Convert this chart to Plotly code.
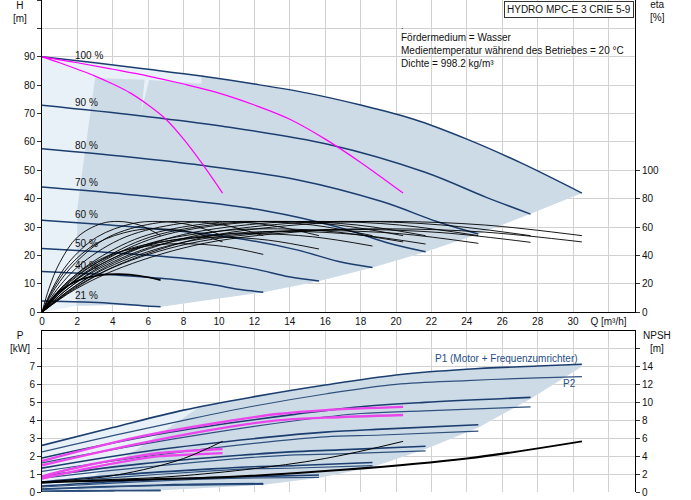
import plotly.graph_objects as go

# ---- Q-H: speed curves, 3 pumps running ----
speed_labels = ["100 %", "90 %", "80 %", "70 %", "60 %", "50 %", "40 %", "21 %"]
label_h = [90.3, 73.9, 58.9, 45.6, 34.3, 24.3, 16.4, 6.1]

q100 = [0, 3, 6, 9, 12, 15, 18, 21, 24, 27, 30.5]
h100 = [90, 87.9, 85.6, 83.2, 80.4, 77.2, 73, 68, 61, 52.8, 42]

speed_q = [
    [0, 5.4, 10.1, 16.2, 21.6, 25.1, 27.6],
    [0, 4.8, 9.0, 14.4, 19.2, 22.3, 24.65],
    [0, 4.2, 7.8, 12.6, 16.8, 19.5, 21.67],
    [0, 3.6, 6.7, 10.8, 14.4, 16.7, 18.67],
    [0, 3.0, 5.6, 9.0, 12.0, 13.95, 15.65],
    [0, 2.4, 4.5, 7.2, 9.6, 11.2, 12.5],
    [0, 1.26, 2.35, 3.8, 5.0, 5.9, 6.7],
]
speed_h = [
    [72.9, 69.3, 65.6, 59.1, 49.4, 40.5, 34.6],
    [57.6, 54.8, 51.8, 46.7, 39.0, 32.0, 27.6],
    [44.1, 41.9, 39.7, 35.8, 29.9, 24.5, 21.3],
    [32.4, 30.8, 29.2, 26.3, 22.0, 18.0, 15.8],
    [22.5, 21.4, 20.3, 18.3, 15.3, 12.5, 11.0],
    [14.4, 13.7, 13.0, 11.7, 9.8, 8.0, 7.1],
    [4.0, 3.8, 3.6, 3.2, 2.7, 2.2, 2.0],
]

# max curves with 1 and 2 pumps (magenta)
max1_q = [0, 1, 2, 3, 4, 5, 6, 7, 8, 9, 10.2]
max2_q = [0, 2, 4, 6, 8, 10, 12, 14, 16, 18, 20.4]
max_h = [90, 87.9, 85.6, 83.2, 80.4, 77.2, 73, 68, 61, 52.8, 42]

# operating range (shaded)
bound_q = [1.95, 4.0, 6.7, 9.5, 12.5, 15.65, 18.67, 21.67, 24.65, 27.56, 30.5]
bound_h = [2.3, 2.6, 2.0, 4.5, 7.1, 11.0, 15.8, 21.3, 27.6, 34.6, 42.0]
dark_top_q = [3.0, 5.8, 5.6, 6.05, 9.0, 9.0]
dark_top_h = [82.5, 81.9, 70.5, 81.8, 80.5, 83.2]
dark_left_q = [2.0]
dark_left_h = [37]

# ---- efficiency curves ----
eta_q = [
    [0, 1.8, 4.6, 9.2, 15.3, 19.8, 25.0, 30.5],
    [0, 1.7, 4.1, 8.3, 13.8, 17.9, 22.6, 27.6],
    [0, 1.5, 3.7, 7.4, 12.3, 16.0, 20.2, 24.65],
    [0, 1.3, 3.3, 6.5, 10.8, 14.1, 17.8, 21.67],
    [0, 1.1, 2.8, 5.6, 9.3, 12.1, 15.3, 18.67],
    [0, 0.9, 2.3, 4.7, 7.8, 10.2, 12.8, 15.65],
    [0, 0.75, 1.9, 3.75, 6.25, 8.1, 10.25, 12.5],
    [0, 0.4, 1.0, 2.0, 3.35, 4.35, 5.5, 6.7],
    [0, 1.2, 3.1, 6.1, 10.2, 13.3, 16.7, 20.4],
    [0, 0.6, 1.5, 3.1, 5.1, 6.6, 8.4, 10.2],
]
eta_pump = [0, 17, 35, 53, 62.5, 64, 61.5, 54]
eta_total = [
    [0, 15.6, 32.1, 48.7, 57.4, 58.8, 56.5, 49.6],
    [0, 15.5, 32.0, 48.4, 57.1, 58.4, 56.1, 49.3],
    [0, 15.3, 31.5, 47.7, 56.3, 57.6, 55.4, 48.6],
    [0, 15.1, 31.2, 47.2, 55.6, 57.0, 54.7, 48.1],
    [0, 14.7, 30.3, 45.8, 54.1, 55.4, 53.2, 46.7],
    [0, 14.0, 28.9, 43.8, 51.6, 52.9, 50.8, 44.6],
    [0, 12.8, 26.4, 40.0, 47.2, 48.3, 46.4, 40.8],
    [0, 7.1, 14.7, 22.3, 26.3, 26.9, 25.8, 22.7],
    [0, 15.6, 32.1, 48.7, 57.4, 58.8, 56.5, 49.6],
    [0, 15.6, 32.1, 48.7, 57.4, 58.8, 56.5, 49.6],
]

# ---- power P1 / P2, 3 pumps ----
p100_q = [0, 4, 8, 12, 16, 20, 24, 28, 30.5]
p1_100 = [2.6, 3.6, 4.57, 5.32, 5.97, 6.53, 6.85, 7.03, 7.13]
p2_100 = [2.24, 3.15, 4.0, 4.8, 5.47, 6.01, 6.22, 6.37, 6.44]

pw_q = [
    [0, 7.2, 14.4, 18, 21.6, 27.6],
    [0, 6.4, 12.8, 16, 19.2, 24.65],
    [0, 5.6, 11.2, 14, 16.8, 21.67],
    [0, 4.8, 9.6, 12, 14.4, 18.67],
    [0, 4, 8, 10, 12, 15.65],
    [0, 3.2, 6.4, 8, 9.6, 12.5],
    [0, 1.7, 3.4, 4.2, 5.0, 6.7],
]
pw_p1 = [
    [1.9, 3.33, 4.35, 4.76, 5.0, 5.28],
    [1.33, 2.34, 3.06, 3.34, 3.51, 3.75],
    [0.89, 1.57, 2.05, 2.24, 2.35, 2.55],
    [0.56, 0.99, 1.29, 1.41, 1.48, 1.65],
    [0.33, 0.57, 0.75, 0.82, 0.86, 0.95],
    [0.17, 0.29, 0.38, 0.42, 0.44, 0.47],
    [0.04, 0.06, 0.07, 0.08, 0.08, 0.09],
]
pw_p2 = [
    [1.63, 2.92, 3.99, 4.38, 4.53, 4.75],
    [1.15, 2.05, 2.8, 3.08, 3.18, 3.4],
    [0.77, 1.37, 1.88, 2.06, 2.13, 2.3],
    [0.48, 0.86, 1.18, 1.3, 1.34, 1.47],
    [0.28, 0.5, 0.68, 0.75, 0.78, 0.82],
    [0.14, 0.26, 0.35, 0.38, 0.4, 0.43],
    [0.03, 0.05, 0.06, 0.07, 0.07, 0.08],
]

# power with 1 and 2 pumps at max speed (magenta)
pmax1_q = [0, 2.67, 5.33, 6.67, 8, 10.2]
pmax1_p1 = [0.87, 1.52, 1.99, 2.18, 2.28, 2.4]
pmax1_p2 = [0.75, 1.33, 1.82, 2.0, 2.07, 2.17]
pmax2_q = [0, 5.33, 10.67, 13.3, 16, 20.4]
pmax2_p1 = [1.73, 3.05, 3.98, 4.35, 4.57, 4.75]
pmax2_p2 = [1.49, 2.67, 3.65, 4.0, 4.15, 4.3]

# shaded area in power plot
pbound_q = [0, 2, 6.7, 12.5, 15.65, 18.67, 21.67, 24.65, 27.6, 30.5]
pbound_p = [0, 0.05, 0.1, 0.4, 0.8, 1.4, 2.4, 3.6, 5.2, 7.0]
pdark_left_q = [2.0, 5.4, 8.9]
pdark_left_p = [0.3, 2.4, 4.75]

# NPSH for 1, 2, 3 pumps
npsh_q = [
    [0, 2, 3.5, 5.74, 8, 10.2],
    [0, 4, 7, 11.5, 16, 20.4],
    [0, 6, 10.5, 17.2, 24, 30.5],
]
npsh_m = [1.1, 1.4, 1.68, 2.5, 3.74, 5.65]

NAVY = "#1b3e6f"
MAG = "#ff00ff"
PALE = "rgb(232,240,248)"
DARK = "rgb(205,219,231)"
GRID = "#d2d2d2"
FONT = "Liberation Sans, Arial, sans-serif"

fig = go.Figure()


def poly(xs, ys, color, xa="x", ya="y"):
    fig.add_trace(go.Scatter(x=xs, y=ys, fill="toself", fillcolor=color, mode="lines",
                             line=dict(width=0, color=color), xaxis=xa, yaxis=ya,
                             hoverinfo="skip"))


def curve(xs, ys, color, width, xa="x", ya="y"):
    fig.add_trace(go.Scatter(x=xs, y=ys, mode="lines", line=dict(color=color, width=width, shape="spline"),
                             xaxis=xa, yaxis=ya))


# top shading
poly(q100 + bound_q[::-1] + [0], h100 + bound_h[::-1] + [0], PALE)
poly(dark_top_q + q100[4:] + bound_q[::-1] + dark_left_q,
     dark_top_h + h100[4:] + bound_h[::-1] + dark_left_h, DARK)

# bottom shading
poly(p100_q + pbound_q[::-1], p1_100 + pbound_p[::-1], PALE, "x2", "y3")
poly(pdark_left_q + p100_q[3:] + pbound_q[::-1][:-1],
     pdark_left_p + p1_100[3:] + pbound_p[::-1][:-1], DARK, "x2", "y3")

# efficiency curves
for i, qs in enumerate(eta_q):
    curve(qs, eta_pump, "black", 0.9, "x", "y2")
    curve(qs, eta_total[i], "black", 1.6 if i == 7 else 0.9, "x", "y2")

# H curves
curve(q100, h100, NAVY, 1.5)
for qs, hs in zip(speed_q, speed_h):
    curve(qs, hs, NAVY, 1.5)
curve(max1_q, max_h, MAG, 1.2)
curve(max2_q, max_h, MAG, 1.2)

# power curves
curve(p100_q, p1_100, NAVY, 1.6, "x2", "y3")
curve(p100_q, p2_100, "#2f517d", 1.2, "x2", "y3")
for qs, a, b in zip(pw_q, pw_p1, pw_p2):
    curve(qs, a, NAVY, 1.6, "x2", "y3")
    curve(qs, b, "#2f517d", 1.2, "x2", "y3")
for qs, a, b in [(pmax1_q, pmax1_p1, pmax1_p2), (pmax2_q, pmax2_p1, pmax2_p2)]:
    curve(qs, a, "rgb(235,70,235)", 2.4, "x2", "y3")
    curve(qs, b, "rgb(235,70,235)", 2.4, "x2", "y3")

# NPSH
for i, qs in enumerate(npsh_q):
    curve(qs, npsh_m, "black", 2.0 if i == 2 else 1.0, "x2", "y4")

ann = []
for lab, hv in zip(speed_labels, label_h):
    ann.append(dict(x=1.75, y=hv, xref="x", yref="y", text=lab, showarrow=False,
                    xanchor="left", yanchor="middle", font=dict(size=10, color="#111")))


def pap(px, py, text, xa="center", ya="middle", **kw):
    ann.append(dict(x=(px - 42) / 593, y=(492 - py) / 492, xref="paper", yref="paper", text=text,
                    showarrow=False, xanchor=xa, yanchor=ya, **kw))


pap(20, 12, "H<br>[m]", font=dict(size=10, color="#111"))
pap(657, 11, "eta<br>[%]", font=dict(size=10, color="#111"))
pap(20, 342, "P<br>[kW]", font=dict(size=10, color="#111"))
pap(657, 342, "NPSH<br>[m]", font=dict(size=10, color="#111"))
pap(634, 1, "HYDRO MPC-E 3 CRIE 5-9", xa="right", ya="top", font=dict(size=10, color="#111"),
    bordercolor="#333", borderwidth=1, borderpad=2, bgcolor="white")
pap(399, 26, ".", xa="left", font=dict(size=9, color="#111"))
pap(399, 51, "Fördermedium = Wasser<br>Medientemperatur während des Betriebes = 20 °C<br>Dichte = 998.2 kg/m³",
    xa="left", align="left", font=dict(size=10, color="#111"))
pap(433, 358, "P1 (Motor + Frequenzumrichter)", xa="left", font=dict(size=10, color="#1f4e85"))
pap(578, 383, "P2", xa="right", font=dict(size=10, color="#1f4e85"))

xt = list(range(0, 34, 2))
xtt = [str(v) for v in xt[:-1]] + ["Q [m³/h]"]
tick_font = dict(size=10, color="#111", family=FONT)

fig.update_layout(
    width=691, height=500,
    margin=dict(l=42, r=56, t=0, b=8, autoexpand=False),
    paper_bgcolor="white", plot_bgcolor="white",
    showlegend=False,
    font=dict(family=FONT),
    annotations=ann,
    xaxis=dict(domain=[0, 1], range=[0, 33.5], anchor="y", tickvals=xt, ticktext=xtt, automargin=False,
               showgrid=True, gridcolor=GRID, showline=True, linecolor="black", linewidth=1,
               zeroline=False, ticks="", tickfont=tick_font),
    yaxis=dict(domain=[0.3652, 1], range=[0, 110], tickvals=list(range(0, 120, 10)), automargin=False,
               ticktext=[str(v) for v in range(0, 100, 10)] + ["", ""],
               showgrid=True, gridcolor=GRID, showline=True, linecolor="black", linewidth=1,
               zeroline=False, ticks="outside", ticklen=4, tickcolor="#333", tickfont=tick_font),
    yaxis2=dict(overlaying="y", side="right", range=[0, 220], tickvals=list(range(0, 120, 20)),
                automargin=False,
                showgrid=False, showline=True, linecolor="black", linewidth=1, zeroline=False,
                ticks="outside", ticklen=4, tickcolor="#333", tickfont=tick_font),
    xaxis2=dict(domain=[0, 1], range=[0, 33.5], anchor="y3", matches="x", tickvals=xt, automargin=False,
                showticklabels=False, showgrid=True, gridcolor=GRID, showline=True, side="top",
                linecolor="black", linewidth=1, zeroline=False, ticks=""),
    yaxis3=dict(domain=[0, 0.3278], range=[0, 9], anchor="x2", tickvals=list(range(0, 9)),
                automargin=False,
                ticktext=[str(v) for v in range(0, 8)] + [""],
                showgrid=True, gridcolor=GRID, showline=True, linecolor="black", linewidth=1,
                zeroline=False, ticks="outside", ticklen=4, tickcolor="#333", tickfont=tick_font),
    yaxis4=dict(overlaying="y3", side="right", anchor="x2", range=[0, 18], tickvals=list(range(0, 18, 2)),
                automargin=False,
                ticktext=[str(v) for v in range(0, 16, 2)] + [""],
                showgrid=False, showline=True, linecolor="black", linewidth=1, zeroline=False,
                ticks="outside", ticklen=4, tickcolor="#333", tickfont=tick_font),
)

# the page body has a default 8px margin; drop it so the chart sits at the window corner
fig.write_html("out.html", config={"displayModeBar": False},
               post_script="document.body.style.margin='0';")
